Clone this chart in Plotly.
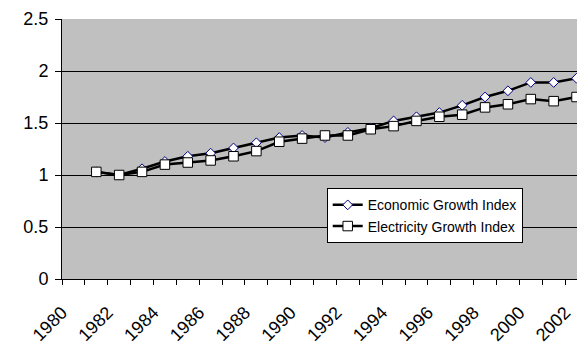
import plotly.graph_objects as go

# Annual index values (1982 = 1.00), plotted at mid-year
years = list(range(1981, 2003))
economic_index = [1.03, 1.00, 1.06, 1.13, 1.18, 1.21, 1.26, 1.31, 1.36, 1.38, 1.36,
                  1.41, 1.45, 1.52, 1.56, 1.60, 1.67, 1.75, 1.81, 1.89, 1.89, 1.93]
electricity_index = [1.03, 1.00, 1.03, 1.10, 1.12, 1.14, 1.18, 1.23, 1.32, 1.35, 1.38,
                     1.38, 1.44, 1.47, 1.52, 1.56, 1.58, 1.65, 1.68, 1.73, 1.71, 1.75]
tick_years = list(range(1980, 2003, 2))

x_mid = [y + 0.5 for y in years]
FONT = "Arial, Liberation Sans, sans-serif"

fig = go.Figure()
fig.add_trace(go.Scatter(
    x=x_mid, y=economic_index, name="Economic Growth Index",
    mode="lines+markers", legendgroup="a", cliponaxis=False,
    line=dict(color="black", width=2.5),
    marker=dict(symbol="diamond", size=7.5, color="white",
                line=dict(color="#000080", width=1)),
))
fig.add_trace(go.Scatter(
    x=x_mid, y=electricity_index, name="Electricity Growth Index",
    mode="lines+markers", legendgroup="b", cliponaxis=False,
    line=dict(color="black", width=2.5),
    marker=dict(symbol="square", size=9.5, color="white",
                line=dict(color="black", width=1)),
))

fig.update_layout(
    width=577, height=348,
    margin=dict(l=62, r=0, t=19, b=69),
    paper_bgcolor="white", plot_bgcolor="#C0C0C0",
    font=dict(family=FONT, color="black", size=18),
    legend=dict(
        x=0.514, y=0.349, xanchor="left", yanchor="top",
        bgcolor="white", bordercolor="black", borderwidth=1,
        font=dict(size=14, family=FONT), itemwidth=30,
        tracegroupgap=0, traceorder="grouped",
    ),
    xaxis=dict(
        range=[1980, 2002.52], tickvals=tick_years,
        ticktext=[str(t) for t in tick_years], tickangle=-45,
        ticks="outside", ticklen=5, tickcolor="black",
        ticklabelstandoff=10,
        showgrid=False, zeroline=False,
        showline=True, linecolor="black", linewidth=1,
        minor=dict(dtick=1, tick0=1980, ticks="outside", ticklen=5, tickcolor="black"),
        tickfont=dict(size=18),
    ),
    yaxis=dict(
        range=[0, 2.5], dtick=0.5, tick0=0,
        ticks="outside", ticklen=6, tickcolor="black",
        ticklabelstandoff=3,
        showgrid=True, gridcolor="black", gridwidth=1,
        zeroline=False, showline=True, linecolor="black", linewidth=1,
        tickfont=dict(size=18),
    ),
)

fig.write_html("out.html")
